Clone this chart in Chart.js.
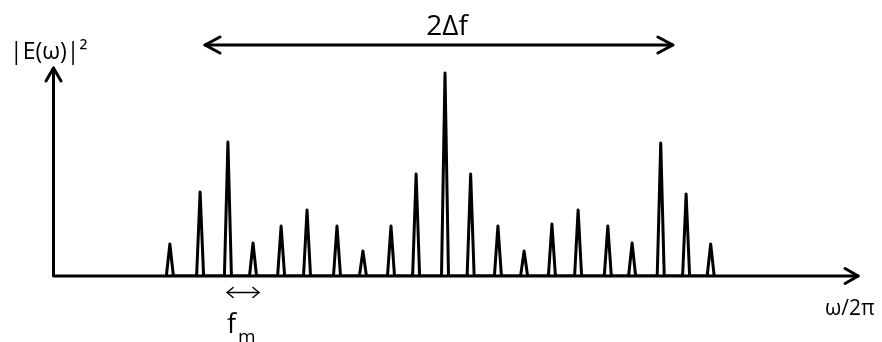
<!DOCTYPE html>
<html>
<head>
<meta charset="utf-8">
<script src="https://cdn.jsdelivr.net/npm/chart.js@4/dist/chart.umd.min.js"></script>
<style>
    html, body { margin: 0; padding: 0; background: #fff; }
    #wrap { width: 882px; height: 342px; position: relative; }
</style>
</head>
<body>
<div id="wrap"><canvas id="spectrum"></canvas></div>
<script>
// sideband positions, in units of fm from the carrier
const peakFreqs = [-10.19, -9.07, -8.04, -7.11, -6.07, -5.11, -4.0, -3.04, -2.0, -1.07, 0,
                   0.95, 1.96, 2.93, 3.96, 4.93, 6.03, 6.93, 7.99, 8.93, 9.84];
// relative power of each line
const peakHeights = [32, 84, 134, 33, 50, 66, 50, 25, 50, 102, 203,
                     102, 50, 25, 52, 66, 50, 33, 133, 82, 32];

const yLabel = '|E(ω)|²';
const xLabel = 'ω/2π';
const spanLabel = '2Δf';
const spanRange = [-8.89, 8.44];   // 2Δf arrow ends
const fmRange = [-8.07, -6.89];    // fm arrow ends
const axisRange = [-14.5, 15.3];   // horizontal axis arrow
const axisTop = 208;               // vertical axis arrow tip
const peakHalfWidth = 0.13;

const FONT = '"Open Sans", sans-serif';

// each line is drawn as a narrow spike sitting on the baseline
const points = [];
peakFreqs.forEach((f, i) => {
    points.push({ x: f - peakHalfWidth, y: 0 });
    points.push({ x: f, y: peakHeights[i] });
    points.push({ x: f + peakHalfWidth, y: 0 });
});

function arrowHead (ctx, x, y, angle, len, half) {
    ctx.save();
    ctx.translate(x, y);
    ctx.rotate(angle);
    ctx.beginPath();
    ctx.moveTo(-len, -half);
    ctx.lineTo(0, 0);
    ctx.lineTo(-len, half);
    ctx.stroke();
    ctx.restore();
}

const annotations = {
    id: 'annotations',
    afterDraw (chart) {
        const { ctx, scales: { x, y } } = chart;
        const x0 = x.getPixelForValue(axisRange[0]);
        const x1 = x.getPixelForValue(axisRange[1]);
        const y0 = y.getPixelForValue(0);
        const yTop = y.getPixelForValue(axisTop);

        ctx.save();
        ctx.strokeStyle = '#000';
        ctx.fillStyle = '#000';
        ctx.lineCap = 'round';
        ctx.lineJoin = 'round';

        // axes
        ctx.lineWidth = 3;
        ctx.beginPath();
        ctx.moveTo(x0, y0);
        ctx.lineTo(x1, y0);
        ctx.moveTo(x0, y0);
        ctx.lineTo(x0, yTop);
        ctx.stroke();
        arrowHead(ctx, x1, y0, 0, 13, 7.5);
        arrowHead(ctx, x0, yTop, -Math.PI / 2, 13, 7.5);

        // 2Δf span
        const sx0 = x.getPixelForValue(spanRange[0]);
        const sx1 = x.getPixelForValue(spanRange[1]);
        const sy = 45;
        ctx.beginPath();
        ctx.moveTo(sx0, sy);
        ctx.lineTo(sx1, sy);
        ctx.stroke();
        arrowHead(ctx, sx1, sy, 0, 15, 8);
        arrowHead(ctx, sx0, sy, Math.PI, 15, 8);

        // fm spacing
        const fx0 = x.getPixelForValue(fmRange[0]);
        const fx1 = x.getPixelForValue(fmRange[1]);
        const fy = 292.5;
        ctx.lineWidth = 1.5;
        ctx.beginPath();
        ctx.moveTo(fx0, fy);
        ctx.lineTo(fx1, fy);
        ctx.stroke();
        arrowHead(ctx, fx1, fy, 0, 6, 5);
        arrowHead(ctx, fx0, fy, Math.PI, 6, 5);

        // labels
        ctx.textBaseline = 'alphabetic';
        ctx.textAlign = 'left';
        ctx.font = `23px ${FONT}`;
        ctx.fillText(yLabel, 10, 59);

        ctx.textAlign = 'center';
        ctx.font = `28px ${FONT}`;
        ctx.fillText(spanLabel, x.getPixelForValue(0) + 2, 35);

        ctx.textAlign = 'left';
        ctx.font = `21px ${FONT}`;
        ctx.fillText(xLabel, 825, 315);

        ctx.font = `27px ${FONT}`;
        ctx.fillText('f', 227, 333);
        ctx.font = `19px ${FONT}`;
        ctx.fillText('m', 238, 343);
        ctx.restore();
    }
};

new Chart(document.getElementById('spectrum'), {
    type: 'line',
    data: {
        datasets: [{
            data: points,
            borderColor: '#000',
            borderWidth: 3,
            borderJoinStyle: 'round',
            borderCapStyle: 'round',
            pointRadius: 0,
            tension: 0,
            fill: false
        }]
    },
    options: {
        responsive: true,
        maintainAspectRatio: false,
        animation: false,
        layout: { padding: { left: 40, right: 5, top: 46, bottom: 66 } },
        plugins: {
            legend: { display: false },
            tooltip: { enabled: false }
        },
        scales: {
            x: { type: 'linear', min: -15, max: 16, display: false },
            y: { min: 0, max: 230, display: false }
        }
    },
    plugins: [annotations]
});
</script>
</body>
</html>
